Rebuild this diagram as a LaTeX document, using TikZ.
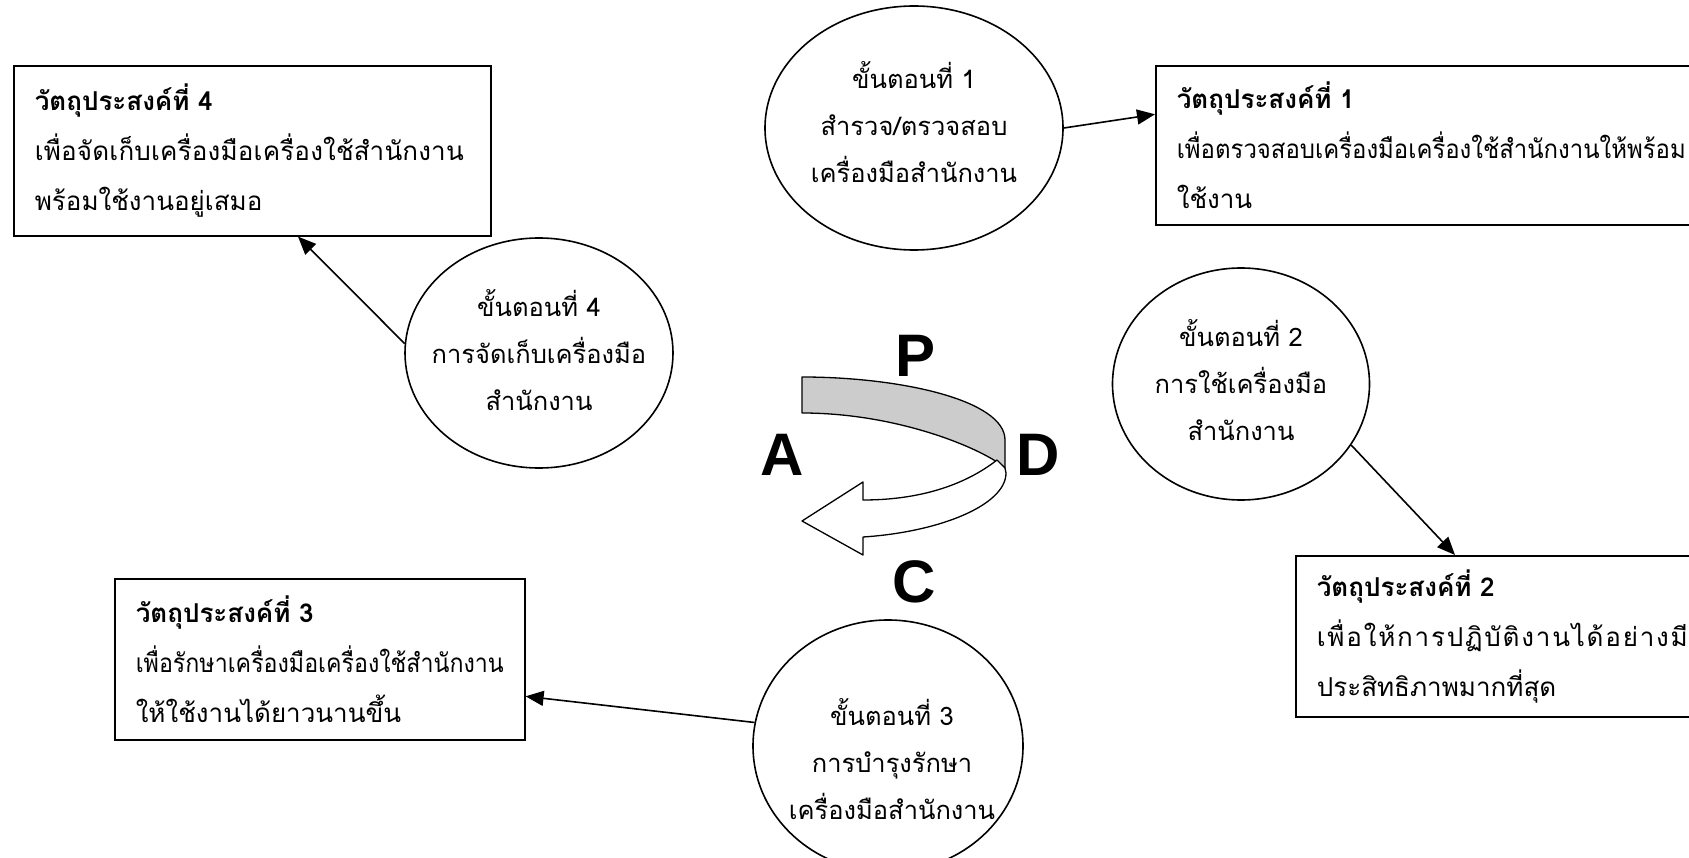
\documentclass[tikz,border=0pt]{standalone}
\usepackage{graphicx}
\usepackage{fontspec}
\newfontfamily\thai[Script=Thai]{Loma}
\newfontfamily\latinsans{Liberation Sans}
\newcommand\thaitext{\thai\fontsize{26}{50}\selectfont}
\newcommand\ovaltext{\thai\fontsize{25.5}{47}\selectfont}
\newcommand\fitw[2]{\leavevmode\resizebox{#1}{\height}{#2}}
\newcommand\spreadw[2]{\leavevmode\makebox[#1][s]{#2}}
\usetikzlibrary{shapes.geometric,arrows.meta}
\definecolor{bandgray}{RGB}{204,204,204}
\begin{document}
\begin{tikzpicture}[x=1pt,y=-1pt,
  box/.style={draw=black, line width=1.6pt, rectangle, anchor=north west, inner xsep=21pt, inner ysep=0pt, align=left, font=\thaitext},
  oval/.style={draw=black, line width=1.6pt, ellipse, inner sep=0pt},
  ovaltxt/.style={align=center, font=\ovaltext, inner sep=0pt},
  conn/.style={line width=1.6pt, -{Triangle[length=18pt,width=15pt]}},
  letter/.style={font=\latinsans\bfseries\fontsize{60}{60}\selectfont, inner sep=0pt},
  ribbon/.style={draw=black, line width=1.3pt, line join=round}
]
\useasboundingbox (0,0) rectangle (1689,858);
\clip (0,0) rectangle (1689,858);

% objective boxes
\node[box, text width=435pt, minimum height=170pt] (b4) at (13,65)
  {{\bfseries วัตถุประสงค์ที่ 4}\\\spreadw{429pt}{เ\hfil พื่\hfil อ\hfil จั\hfil ด\hfil เ\hfil ก็\hfil บ\hfil เ\hfil ค\hfil รื่\hfil อ\hfil ง\hfil มื\hfil อ\hfil เ\hfil ค\hfil รื่\hfil อ\hfil ง\hfil ใ\hfil ช้\hfil สำ\hfil นั\hfil ก\hfil ง\hfil า\hfil น}\\พร้อมใช้งานอยู่เสมอ};
\node[box, text width=530pt, minimum height=159pt] (b1) at (1155,65)
  {{\bfseries วัตถุประสงค์ที่ 1}\\\fitw{509pt}{เพื่อตรวจสอบเครื่องมือเครื่องใช้สำนักงานให้พร้อม}\\ใช้งาน};
\node[box, text width=368pt, minimum height=161pt] (b3) at (114,578)
  {{\bfseries วัตถุประสงค์ที่ 3}\\\fitw{368pt}{เพื่อรักษาเครื่องมือเครื่องใช้สำนักงาน}\\ให้ใช้งานได้ยาวนานขึ้น};
\node[box, text width=400pt, minimum height=161pt] (b2) at (1295,555)
  {{\bfseries วัตถุประสงค์ที่ 2}\\\spreadw{371pt}{เ\hfil พื่\hfil อ\hfil ใ\hfil ห้\hfil ก\hfil า\hfil ร\hfil ป\hfil ฏิ\hfil บั\hfil ติ\hfil ง\hfil า\hfil น\hfil ไ\hfil ด้\hfil อ\hfil ย่\hfil า\hfil ง\hfil มี}\\ประสิทธิภาพมากที่สุด};

% step ellipses
\node[oval, minimum width=298pt, minimum height=244pt] (e1) at (914,128) {};
\node[ovaltxt] (t1) at ([yshift=6pt]e1.center) {ขั้นตอนที่ 1\\สำรวจ/ตรวจสอบ\\เครื่องมือสำนักงาน};
\node[oval, minimum width=257pt, minimum height=232pt] (e2) at (1241,384) {};
\node[ovaltxt] (t2) at ([yshift=4pt]e2.center) {ขั้นตอนที่ 2\\การใช้เครื่องมือ\\สำนักงาน};
\node[oval, minimum width=270pt, minimum height=252pt] (e3) at (888,746) {};
\node[ovaltxt] (t3) at ([xshift=4pt,yshift=-13pt]e3.center) {ขั้นตอนที่ 3\\การบำรุงรักษา\\เครื่องมือสำนักงาน};
\node[oval, minimum width=268pt, minimum height=230pt] (e4) at (539,353) {};
\node[ovaltxt] (t4) at ([yshift=3pt]e4.center) {ขั้นตอนที่ 4\\การจัดเก็บเครื่องมือ\\สำนักงาน};

% connectors
\draw[conn] (e1.east) -- ([yshift=31pt]b1.west);
\draw[conn] (e2.-29) -- ([xshift=160pt]b2.north west);
\draw[conn] (e3.170) -- ([yshift=-37pt]b3.east);
\draw[conn] (e4.176) -- ([xshift=285pt]b4.south west);

% PDCA ribbon arrow
\draw[ribbon, fill=bandgray] (802,377) .. controls (900,377) and (1005,400) .. (1005,440)
  -- (1005,468) .. controls (985,450) and (900,413) .. (802,413) -- cycle;
\draw[ribbon, fill=white] (997,460) .. controls (965,485) and (920,500) .. (863,500)
  -- (863,482) -- (802,521) -- (863,555) -- (863,537)
  .. controls (940,532) and (1006,505) .. (1006,473) -- (1005,468) -- cycle;

\node[letter] (P) at (915,356) {P};
\node[letter] (A) at (782,455) {A};
\node[letter] (D) at (1038,455) {D};
\node[letter] (C) at (914,582) {C};
\end{tikzpicture}
\end{document}
